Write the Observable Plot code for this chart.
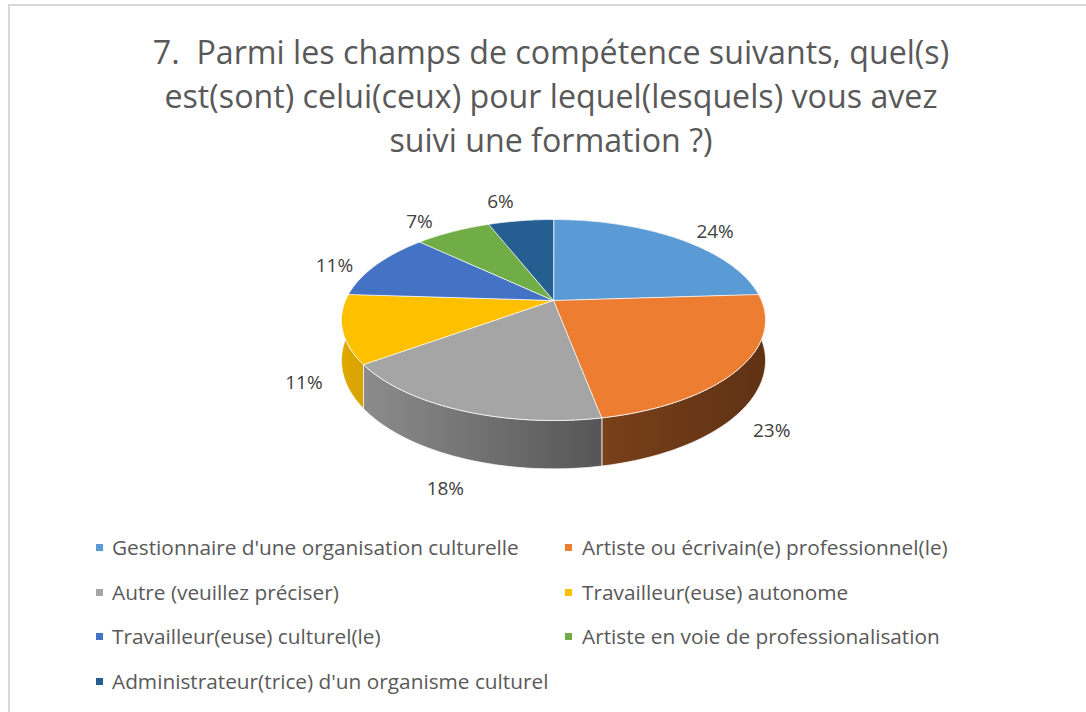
<!DOCTYPE html>
<html><head><meta charset="utf-8">
<script src="https://cdn.jsdelivr.net/npm/d3@7"></script>
<script src="https://cdn.jsdelivr.net/npm/@observablehq/plot@0.6"></script>
<style>
body{margin:0;background:#fff;font-family:"Open Sans",Lato,sans-serif;}
#chart{position:relative;width:1086px;height:712px;overflow:hidden;background:#fff;}
#frame{position:absolute;left:8px;top:4px;width:1100px;height:730px;border:2px solid #d9d9d9;box-sizing:border-box;}
#title{position:absolute;left:0;top:30px;width:1102px;text-align:center;font-size:32.2px;line-height:44px;color:#595959;}
#plot{position:absolute;left:0;top:170px;}
.leg{position:absolute;height:24px;line-height:24px;font-size:20.8px;color:#595959;white-space:nowrap;}
.sw{position:absolute;width:7px;height:7px;}
</style></head>
<body>
<div id="chart">
  <div id="frame"></div>
  <div id="title">7.&nbsp; Parmi les champs de compétence suivants, quel(s)<br>est(sont) celui(ceux) pour lequel(lesquels) vous avez<br>suivi une formation ?)</div>
  <div id="plot"></div>
  <div id="legend"></div>
</div>
<script>
// ---- data ----
const categories = [
  "Gestionnaire d'une organisation culturelle",
  "Artiste ou écrivain(e) professionnel(le)",
  "Autre (veuillez préciser)",
  "Travailleur(euse) autonome",
  "Travailleur(euse) culturel(le)",
  "Artiste en voie de professionalisation",
  "Administrateur(trice) d'un organisme culturel"
];
const values = [24, 23, 18, 11, 11, 7, 6];
const colors = ["#5b9bd5", "#ed7d31", "#a5a5a5", "#ffc000", "#4472c4", "#70ad47", "#255e91"];

// ---- geometry (3D pie with perspective) ----
const CX = 553, CY = 300, R = 208, B = 96.7, K = 0.194, H = 39;
const proj = (th, drop = 0) => {
  const s = Math.sin(th), c = Math.cos(th), p = 1 / (1 + K * c);
  return {x: CX + R * s * p, y: CY - B * c * p + drop * p};
};
const total = d3.sum(values);
let acc = 0;
const slices = values.map((v, i) => {
  const a0 = acc / total * 2 * Math.PI; acc += v;
  const a1 = acc / total * 2 * Math.PI;
  return {i, v, a0, a1, mid: (a0 + a1) / 2, name: categories[i], color: colors[i]};
});
function arc(a0, a1, drop) {
  const n = Math.max(2, Math.ceil((a1 - a0) / (Math.PI / 180)));
  return d3.range(n + 1).map(j => proj(a0 + (a1 - a0) * j / n, drop));
}
const sideOrder = slices.slice().sort((a, b) => Math.cos(b.mid) - Math.cos(a.mid));
const sideMarks = sideOrder.map(s =>
  Plot.line([...arc(s.a0, s.a1, 0), ...arc(s.a0, s.a1, H).reverse()],
    {x: "x", y: "y", curve: "linear-closed", fill: `url(#side${s.i})`, stroke: "#ffffff", strokeWidth: 1, strokeOpacity: 0.7})
);
const topMarks = slices.map(s =>
  Plot.line([{x: CX, y: CY}, ...arc(s.a0, s.a1, 0)],
    {x: "x", y: "y", curve: "linear-closed", fill: s.color, stroke: "#ffffff", strokeWidth: 1, strokeOpacity: 0.75})
);
const labelData = slices.map(s => {
  const sn = Math.sin(s.mid), c = Math.cos(s.mid);
  const e = proj(s.mid, c < 0 ? H : 0);
  return {
    x: e.x + sn * 40 + Math.sign(sn) * Math.max(0, c) * 13,
    y: e.y + 8 - c * 15 - c * (1 - Math.abs(sn)) * 15,
    text: s.v + "%"
  };
});

const top0 = 170, svgH = 340;
const fig = Plot.plot({
  width: 1086, height: svgH, margin: 0,
  style: {background: "transparent", fontFamily: "'Open Sans', sans-serif"},
  x: {domain: [0, 1086], range: [0, 1086], axis: null},
  y: {domain: [top0, top0 + svgH], range: [0, svgH], axis: null},
  marks: [
    ...sideMarks,
    ...topMarks,
    Plot.text(labelData, {x: "x", y: "y", text: "text", fontSize: 19, fill: "#404040", fontFamily: "'Open Sans', sans-serif"})
  ]
});
// gradients for the side walls
const xs = fig.scale("x");
const x1 = xs.apply(CX - R / Math.sqrt(1 - K * K)), x2 = xs.apply(CX + R / Math.sqrt(1 - K * K));
const defs = d3.select(fig).insert("defs", ":first-child");
const shade = (c, f) => { const r = d3.rgb(c); return d3.rgb(r.r * f, r.g * f, r.b * f).formatHex(); };
slices.forEach(s => {
  const g = defs.append("linearGradient").attr("id", `side${s.i}`)
    .attr("gradientUnits", "userSpaceOnUse").attr("x1", x1).attr("x2", x2).attr("y1", 0).attr("y2", 0);
  [[0, 0.88], [0.64, 0.5], [1, 0.4]].forEach(([o, f]) =>
    g.append("stop").attr("offset", o).attr("stop-color", shade(s.color, f)));
});
document.getElementById("plot").appendChild(fig);

// legend
const legend = document.getElementById("legend");
const rowsY = [548, 593, 637, 682];
const colX = [[96, 112], [565, 582]];
slices.forEach((s, k) => {
  const row = Math.floor(k / 2), col = k % 2;
  const cy = rowsY[row];
  const sw = document.createElement("div");
  sw.className = "sw"; sw.style.left = colX[col][0] + "px"; sw.style.top = (cy - 4) + "px"; sw.style.background = s.color;
  const t = document.createElement("div");
  t.className = "leg"; t.style.left = colX[col][1] + "px"; t.style.top = (cy - 12.6) + "px"; t.textContent = s.name;
  legend.appendChild(sw); legend.appendChild(t);
});
</script>
</body></html>
